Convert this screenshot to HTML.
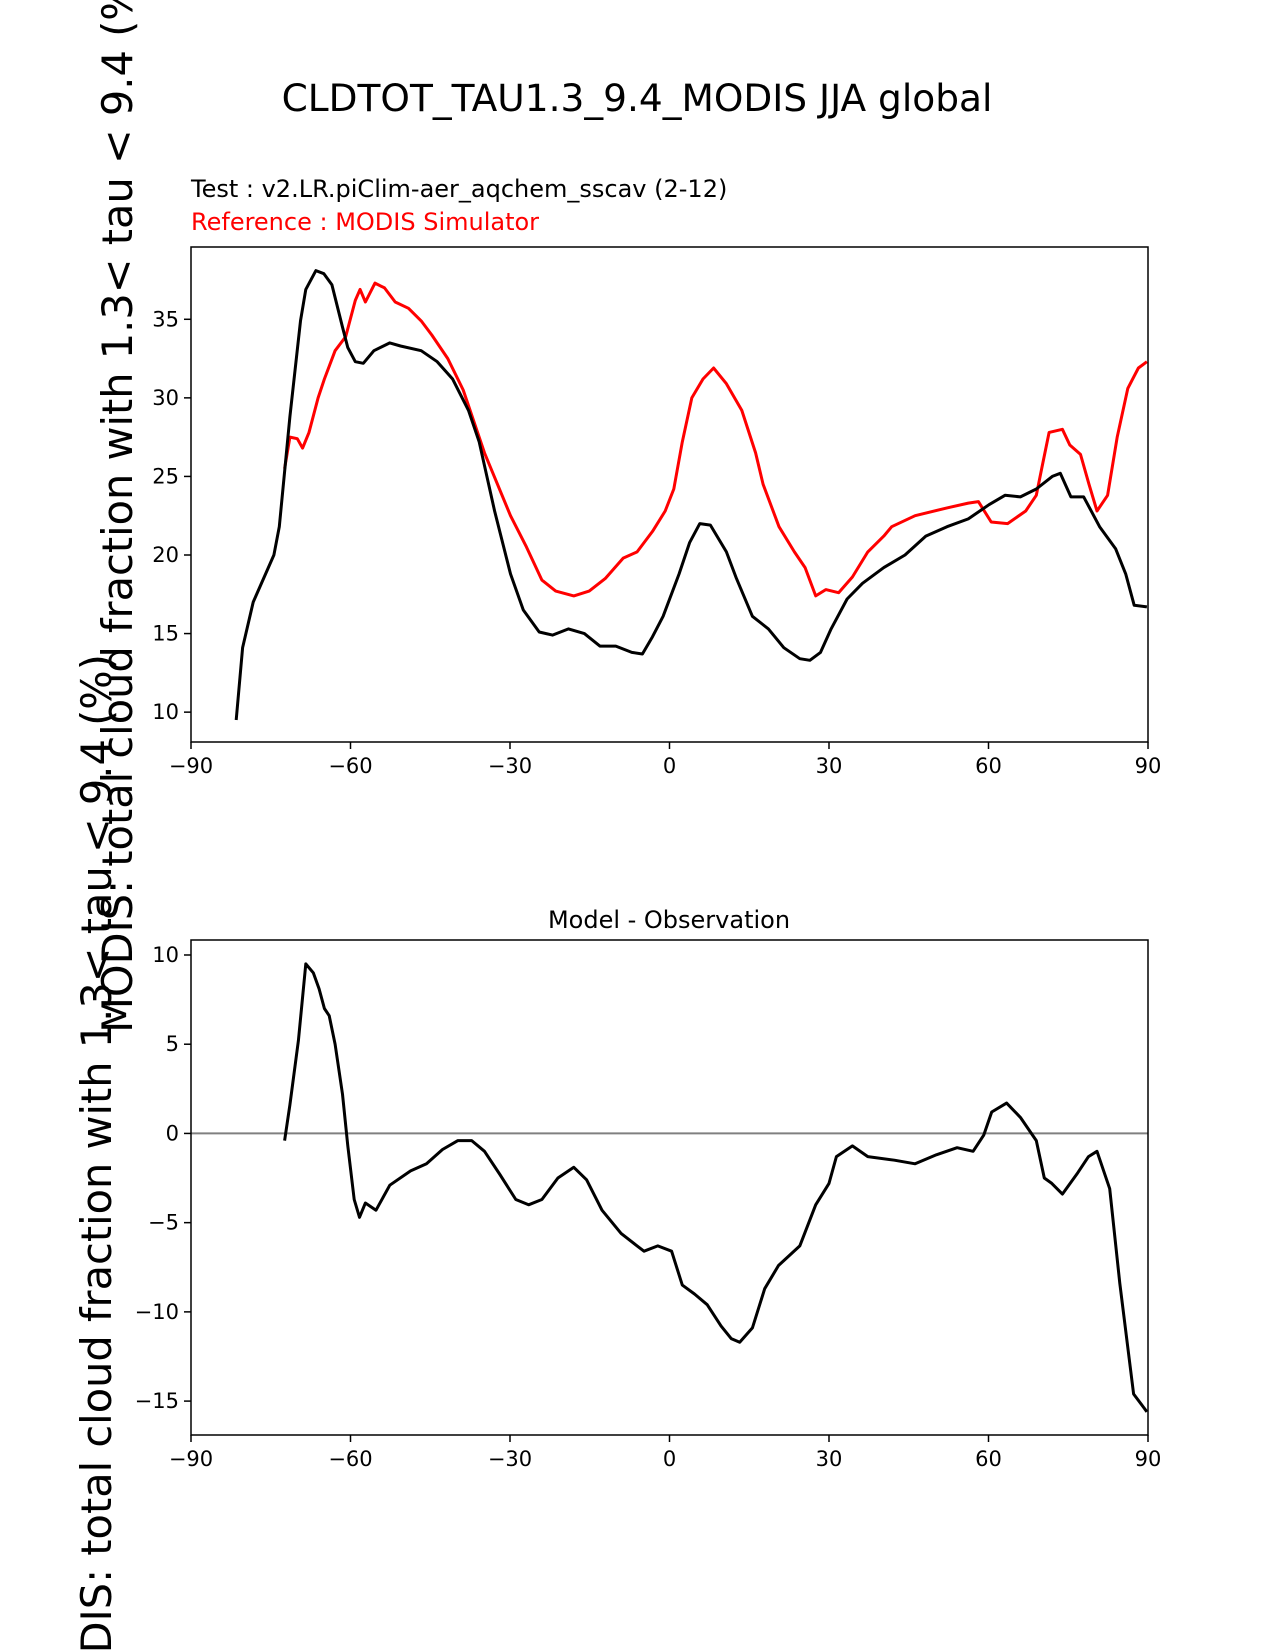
<!DOCTYPE html>
<html><head><meta charset="utf-8"><style>
body{margin:0;background:#fff;}
svg{display:block;font-family:"DejaVu Sans","Liberation Sans",sans-serif;}
</style></head><body>
<svg id="chart" width="1275" height="1650" viewBox="0 0 1275 1650" xmlns="http://www.w3.org/2000/svg">
<text x="637" y="111" font-size="37.5" text-anchor="middle">CLDTOT_TAU1.3_9.4_MODIS JJA global</text>
<text x="191" y="197" font-size="24">Test : v2.LR.piClim-aer_aqchem_sscav (2-12)</text>
<text x="191" y="230" font-size="24" fill="#ff0000">Reference : MODIS Simulator</text>
<text x="669" y="928" font-size="24" text-anchor="middle">Model - Observation</text>
<text font-size="41.5" text-anchor="middle" transform="translate(132,499) rotate(-90)">MODIS: total cloud fraction with 1.3&lt; tau &lt; 9.4 (%)</text>
<text font-size="41.5" text-anchor="middle" transform="translate(111,1188) rotate(-90)">MODIS: total cloud fraction with 1.3&lt; tau &lt; 9.4 (%)</text>
<g id="top"></g>
<g id="bot"></g>
</svg>
<script>
const xTicks=[-90,-60,-30,0,30,60,90];
const topYTicks=[10,15,20,25,30,35];
const botYTicks=[-15,-10,-5,0,5,10];
const testLat=[-81.5,-80.3,-78.3,-74.4,-73.4,-71.4,-69.4,-68.4,-66.5,-65,-63.5,-61.5,-60.5,-59.1,-57.6,-55.6,-52.6,-50.6,-46.7,-43.7,-40.8,-37.8,-35.8,-32.9,-29.9,-27.5,-24.5,-22,-19,-16,-13.1,-10.1,-7.1,-5.1,-3.2,-1.2,1.8,3.8,5.7,7.7,10.7,12.6,15.6,18.6,21.5,24.5,26.4,28.4,30.4,33.4,36.3,40.3,44.3,48.2,52.2,56.2,60.1,63.1,66,69,72,73.5,75.5,77.9,80.9,83.9,85.8,87.4,89.8];
const testVal=[9.5,14.1,17,20,21.8,28.8,34.9,36.9,38.1,37.9,37.2,34.5,33.2,32.3,32.2,33,33.5,33.3,33,32.3,31.2,29.2,27.2,22.8,18.8,16.5,15.1,14.9,15.3,15,14.2,14.2,13.8,13.7,14.8,16.1,18.8,20.8,22,21.9,20.2,18.5,16.1,15.3,14.1,13.4,13.3,13.8,15.3,17.2,18.2,19.2,20,21.2,21.8,22.3,23.2,23.8,23.7,24.2,25,25.2,23.7,23.7,21.8,20.4,18.8,16.8,16.7];
const refLat=[-72.4,-71.4,-70,-69,-67.8,-66.1,-64.9,-62.9,-60.9,-59.1,-58.2,-57.2,-55.4,-53.6,-51.6,-49.1,-46.7,-44.7,-41.7,-38.8,-34.8,-29.9,-26.9,-24,-21.4,-18,-15.1,-12.1,-8.7,-6.1,-3.2,-0.8,0.8,2.4,4.2,6.3,8.3,10.7,13.6,16.2,17.6,20.6,23.5,25.5,27.5,29.4,31.8,34.4,37.3,40.3,41.8,46.2,52.2,56.2,58.1,60.5,63.6,67,69,70,71.4,73.9,75.3,77.3,78.9,80.4,82.4,84.2,86.2,88.2,89.8];
const refVal=[25.5,27.5,27.4,26.8,27.8,30,31.2,33,33.9,36.2,36.9,36.1,37.3,37,36.1,35.7,34.9,34,32.5,30.5,26.5,22.5,20.5,18.4,17.7,17.4,17.7,18.5,19.8,20.2,21.5,22.8,24.2,27.2,30,31.2,31.9,30.9,29.2,26.5,24.5,21.8,20.2,19.2,17.4,17.8,17.6,18.6,20.2,21.2,21.8,22.5,23,23.3,23.4,22.1,22,22.8,23.8,25.5,27.8,28,27,26.4,24.5,22.8,23.8,27.5,30.6,31.9,32.3];
const diffLat=[-72.4,-71.4,-69.8,-68.4,-67,-65.9,-64.9,-64,-62.9,-61.5,-60.5,-59.3,-58.3,-57.2,-55.2,-52.6,-48.7,-45.7,-42.7,-39.8,-37.2,-34.8,-31.9,-28.9,-26.5,-24,-21,-18,-15.6,-12.7,-9.1,-6.1,-4.8,-2.2,0.4,2.4,4.7,7.1,9.7,11.6,13.2,15.6,17.9,20.5,24.5,27.5,30,31.4,34.4,37.3,42.3,46.2,50.2,54.1,57.1,59.1,60.6,63.4,66,69,70.5,71.9,73.9,76.8,78.8,80.4,82.8,84.7,87.3,89.8];
const diffVal=[-0.4,1.6,5.2,9.5,9,8.1,7,6.6,5,2.2,-0.7,-3.7,-4.7,-3.9,-4.3,-2.9,-2.1,-1.7,-0.9,-0.4,-0.4,-1,-2.3,-3.7,-4,-3.7,-2.5,-1.9,-2.6,-4.3,-5.6,-6.3,-6.6,-6.3,-6.6,-8.5,-9,-9.6,-10.8,-11.5,-11.7,-10.9,-8.7,-7.4,-6.3,-4,-2.8,-1.3,-0.7,-1.3,-1.5,-1.7,-1.2,-0.8,-1,-0.1,1.2,1.7,0.9,-0.4,-2.5,-2.8,-3.4,-2.2,-1.3,-1,-3.1,-8.4,-14.6,-15.6];

const NS='http://www.w3.org/2000/svg';
function mk(p,t,a){const e=document.createElementNS(NS,t);for(const k in a)e.setAttribute(k,a[k]);p.appendChild(e);return e;}
function panel(g,top,bot,ymin,ymax,yTicks,series,zero){
  const L=191,R=1148;
  const xs=v=>L+(v+90)/180*(R-L);
  const ys=v=>bot-(v-ymin)/(ymax-ymin)*(bot-top);
  if(zero){const z=mk(g,'line',{x1:L,x2:R,y1:ys(0),y2:ys(0),stroke:'#808080','stroke-width':2});
    
    }
  series.forEach(s=>{
    const d=s.lat.map((la,i)=>(i?'L':'M')+xs(la).toFixed(1)+','+ys(s.val[i]).toFixed(1)).join(' ');
    const p=mk(g,'path',{d:d,fill:'none',stroke:s.color,'stroke-width':3,'stroke-linejoin':'round'});
    
    
  });
  const fr=mk(g,'rect',{x:L,y:top,width:R-L,height:bot-top,fill:'none',stroke:'#000','stroke-width':1.5});
  
  
  xTicks.forEach(t=>{
    mk(g,'line',{x1:xs(t),x2:xs(t),y1:bot,y2:bot+7,stroke:'#000','stroke-width':1.5});
    const tx=mk(g,'text',{x:xs(t),y:bot+31,'font-size':21,'text-anchor':'middle'});
    tx.textContent=(t<0?'\u2212'+(-t):t);
    
    
  });
  yTicks.forEach(t=>{
    mk(g,'line',{x1:L-7,x2:L,y1:ys(t),y2:ys(t),stroke:'#000','stroke-width':1.5});
    const tx=mk(g,'text',{x:L-12,y:ys(t)+7,'font-size':21,'text-anchor':'end'});
    tx.textContent=(t<0?'\u2212'+(-t):t);
    
    
  });
}
panel(document.getElementById('top'),247,742,8.1,39.6,topYTicks,[
  {lat:refLat,val:refVal,color:'#ff0000',name:'reference-line'},
  {lat:testLat,val:testVal,color:'#000',name:'test-line'}],false);
panel(document.getElementById('bot'),940,1435,-16.9,10.84,botYTicks,[
  {lat:diffLat,val:diffVal,color:'#000',name:'difference-line'}],true);
</script>
</body></html>
